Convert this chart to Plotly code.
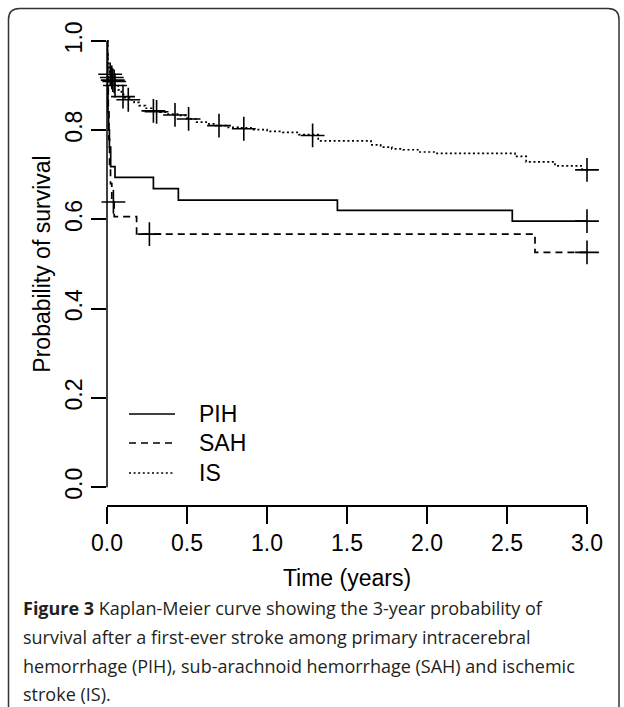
import plotly.graph_objects as go

# ---------------- data ----------------
pih_t = [0, 0.003, 0.006, 0.01, 0.015, 0.023, 0.05, 0.29, 0.446, 1.44, 2.533, 3.0]
pih_s = [1.0, 0.90, 0.84, 0.80, 0.762, 0.718, 0.694, 0.669, 0.643, 0.620, 0.596, 0.596]
pih_cens_t = [3.0]
pih_cens_s = [0.596]

sah_t = [0, 0.004, 0.008, 0.012, 0.016, 0.022, 0.03, 0.045, 0.185, 2.675, 3.0]
sah_s = [1.0, 0.92, 0.85, 0.78, 0.72, 0.68, 0.639, 0.606, 0.567, 0.526, 0.526]
sah_cens_t = [0.04, 0.265, 3.0]
sah_cens_s = [0.639, 0.567, 0.526]

is_t = [0, 0.003, 0.006, 0.01, 0.015, 0.02, 0.03, 0.04, 0.05, 0.07, 0.09, 0.11,
        0.14, 0.17, 0.20, 0.24, 0.28, 0.33, 0.38, 0.45, 0.50, 0.56, 0.62, 0.68,
        0.75, 0.82, 0.90, 1.0, 1.1, 1.2, 1.32, 1.65, 1.71, 1.78, 1.85, 1.95,
        2.05, 2.55, 2.62, 2.80, 2.97, 3.0]
is_s = [1.0, 0.97, 0.95, 0.94, 0.93, 0.925, 0.918, 0.91, 0.90, 0.89, 0.88, 0.873,
        0.868, 0.862, 0.855, 0.849, 0.843, 0.840, 0.836, 0.833, 0.825, 0.818, 0.814, 0.810,
        0.806, 0.805, 0.801, 0.797, 0.795, 0.790, 0.776, 0.767, 0.762, 0.758, 0.756, 0.751,
        0.748, 0.741, 0.729, 0.720, 0.711, 0.711]
is_cens_t = [0.02, 0.03, 0.036, 0.045, 0.05, 0.10, 0.133, 0.29, 0.31, 0.425, 0.51, 0.70, 0.855, 1.285, 3.0]
is_cens_s = [0.925, 0.918, 0.912, 0.909, 0.90, 0.875, 0.868, 0.843, 0.841, 0.834, 0.825, 0.810, 0.803, 0.788, 0.711]

x_ticks = [0.0, 0.5, 1.0, 1.5, 2.0, 2.5, 3.0]
y_ticks = [0.0, 0.2, 0.4, 0.6, 0.8, 1.0]
legend_names = ["PIH", "SAH", "IS"]

caption_lines = [
    "<b>Figure 3</b> Kaplan-Meier curve showing the 3-year probability of",
    "survival after a first-ever stroke among primary intracerebral",
    "hemorrhage (PIH), sub-arachnoid hemorrhage (SAH) and ischemic",
    "stroke (IS).",
]

# ---------------- layout geometry ----------------
W, H = 624, 707
ML, MR, MT, MB = 107, 37, 23, 202
PW = W - ML - MR
PH = H - MT - MB


def px_x(px):
    return (px - ML) / PW


def px_y(py):
    return (H - MB - py) / PH


FONT = "Liberation Sans, Arial, sans-serif"
dashes = ["solid", "7px,5px", "2px,2.6px"]

fig = go.Figure()

series = [(pih_t, pih_s), (sah_t, sah_s), (is_t, is_s)]
censors = [(pih_cens_t, pih_cens_s), (sah_cens_t, sah_cens_s), (is_cens_t, is_cens_s)]

for (t, s), name, d in zip(series, legend_names, dashes):
    fig.add_trace(go.Scatter(x=t, y=s, mode="lines", name=name,
                             line=dict(color="black", width=1.7, dash=d, shape="hv"),
                             showlegend=False, hoverinfo="skip"))
for (t, s) in censors:
    fig.add_trace(go.Scatter(x=t, y=s, mode="markers", showlegend=False,
                             cliponaxis=False, hoverinfo="skip",
                             marker=dict(symbol="cross-thin", size=17,
                                         line=dict(color="black", width=1.6))))

shapes = []
annotations = []

# y axis line spanning tick range only (R style)
shapes.append(dict(type="line", xref="paper", yref="y", x0=0, x1=0, y0=0, y1=1,
                   line=dict(color="black", width=1.5)))

# custom legend
leg_y = [414, 443, 473]
for name, d, yy in zip(legend_names, dashes, leg_y):
    shapes.append(dict(type="line", xref="paper", yref="paper",
                       x0=px_x(129), x1=px_x(175), y0=px_y(yy), y1=px_y(yy),
                       line=dict(color="black", width=1.7, dash=d)))
    annotations.append(dict(xref="paper", yref="paper", x=px_x(197), y=px_y(yy),
                            text=name, showarrow=False, xanchor="left", yanchor="middle",
                            font=dict(family=FONT, size=23, color="black")))

# caption
cap_y = [608, 637, 666, 694]
for line, yy in zip(caption_lines, cap_y):
    annotations.append(dict(xref="paper", yref="paper", x=px_x(21), y=px_y(yy),
                            text=line, showarrow=False, xanchor="left", yanchor="middle",
                            font=dict(family="Open Sans, sans-serif", size=18, color="#231f20")))

# rounded border around figure + caption
bx0, bx1, by0, by1, r = 8.5, 619, 8.5, 720, 11
rx = r / PW
ry = r / PH
path = (f"M {px_x(bx0)},{px_y(by1)} L {px_x(bx0)},{px_y(by0) - ry} "
        f"Q {px_x(bx0)},{px_y(by0)} {px_x(bx0) + rx},{px_y(by0)} "
        f"L {px_x(bx1) - rx},{px_y(by0)} "
        f"Q {px_x(bx1)},{px_y(by0)} {px_x(bx1)},{px_y(by0) - ry} "
        f"L {px_x(bx1)},{px_y(by1)}")
shapes.append(dict(type="path", xref="paper", yref="paper", path=path,
                   line=dict(color="#333333", width=1.5)))

fig.update_layout(
    width=W, height=H,
    margin=dict(l=ML, r=MR, t=MT, b=MB, pad=0),
    paper_bgcolor="white", plot_bgcolor="white",
    showlegend=False,
    font=dict(family=FONT, size=23, color="black"),
    shapes=shapes, annotations=annotations,
    xaxis=dict(range=[0, 3.0], tickvals=x_ticks, tickformat=".1f",
               showline=True, linecolor="black", linewidth=1.5,
               ticks="outside", ticklen=17, tickwidth=1.5, tickcolor="black",
               ticklabelstandoff=0,
               showgrid=False, zeroline=False,
               tickfont=dict(family=FONT, size=23, color="black"),
               title=dict(text="Time (years)", standoff=15,
                          font=dict(family=FONT, size=23, color="black"))),
    yaxis=dict(range=[-0.04, 1.04], tickvals=y_ticks, tickformat=".1f",
               showline=False, ticks="outside", ticklen=15, tickwidth=1.5,
               tickcolor="black", tickangle=-90, ticklabelstandoff=0,
               showgrid=False, zeroline=False,
               tickfont=dict(family=FONT, size=23, color="black"),
               title=dict(text="Probability of survival", standoff=3,
                          font=dict(family=FONT, size=23, color="black"))),
)

fig.write_html("out.html")
